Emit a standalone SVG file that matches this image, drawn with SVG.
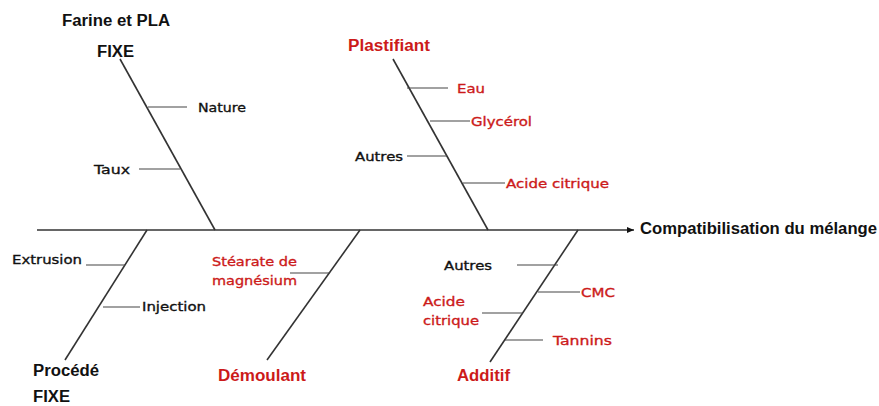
<svg xmlns="http://www.w3.org/2000/svg" width="879" height="406" viewBox="0 0 879 406">
<style>
.ln{stroke:#333;stroke-width:1.6;fill:none}
.tk{stroke:#444;stroke-width:1.2;fill:none}
text{font-family:"Liberation Sans",Arial,sans-serif}
.h{font-size:16px;font-weight:bold;fill:#111}
.hr{font-size:16px;font-weight:bold;fill:#cc1a1a}
.s,.sr{font-family:"DejaVu Sans",Verdana,sans-serif;font-size:13px;stroke-width:0.35}
.s{fill:#111;stroke:#111}
.sr{fill:#cc1a1a;stroke:#cc1a1a}
</style>
<defs>
<marker id="ar" markerWidth="8" markerHeight="8" refX="7" refY="4" orient="auto" markerUnits="userSpaceOnUse">
<path d="M0,1 L7,4 L0,7 Z" fill="#111"/>
</marker>
</defs>
<g id="connectors">
<line class="ln" x1="37" y1="230" x2="634" y2="230" marker-end="url(#ar)"/>
<line class="ln" x1="120" y1="59" x2="215" y2="230"/>
<line class="tk" x1="148" y1="107" x2="187" y2="107"/>
<line class="tk" x1="139" y1="169" x2="180" y2="169"/>
<line class="ln" x1="393" y1="59" x2="488" y2="230"/>
<line class="tk" x1="407" y1="88" x2="448" y2="88"/>
<line class="tk" x1="430" y1="121" x2="470" y2="121"/>
<line class="tk" x1="407" y1="156" x2="447" y2="156"/>
<line class="tk" x1="463" y1="183" x2="505" y2="183"/>
<line class="ln" x1="147" y1="230" x2="65" y2="360"/>
<line class="tk" x1="86" y1="265" x2="125" y2="265"/>
<line class="tk" x1="103" y1="307" x2="140" y2="307"/>
<line class="ln" x1="360" y1="230" x2="267" y2="360"/>
<line class="tk" x1="290" y1="273" x2="330" y2="273"/>
<line class="ln" x1="578" y1="230" x2="490" y2="362"/>
<line class="tk" x1="517" y1="265" x2="558" y2="265"/>
<line class="tk" x1="538" y1="292" x2="580" y2="292"/>
<line class="tk" x1="482" y1="313" x2="523" y2="313"/>
<line class="tk" x1="505" y1="340" x2="543" y2="340"/>
</g>
<g id="effect"><text class="h" x="640" y="234" textLength="237" lengthAdjust="spacingAndGlyphs">Compatibilisation du mélange</text></g>
<g id="farine">
<text class="h" x="62" y="26" textLength="108" lengthAdjust="spacingAndGlyphs">Farine et PLA</text>
<text class="h" x="97" y="57" textLength="37" lengthAdjust="spacingAndGlyphs">FIXE</text>
<text class="s" x="198" y="112" textLength="48" lengthAdjust="spacingAndGlyphs">Nature</text>
<text class="s" x="94" y="174" textLength="36" lengthAdjust="spacingAndGlyphs">Taux</text>
</g>
<g id="plastifiant">
<text class="hr" x="348" y="51" textLength="82" lengthAdjust="spacingAndGlyphs">Plastifiant</text>
<text class="sr" x="457" y="93" textLength="28" lengthAdjust="spacingAndGlyphs">Eau</text>
<text class="sr" x="471" y="126" textLength="61" lengthAdjust="spacingAndGlyphs">Glycérol</text>
<text class="s" x="355" y="161" textLength="48" lengthAdjust="spacingAndGlyphs">Autres</text>
<text class="sr" x="506" y="188" textLength="103" lengthAdjust="spacingAndGlyphs">Acide citrique</text>
</g>
<g id="procede">
<text class="s" x="12" y="264" textLength="70" lengthAdjust="spacingAndGlyphs">Extrusion</text>
<text class="s" x="142" y="311" textLength="64" lengthAdjust="spacingAndGlyphs">Injection</text>
<text class="h" x="33" y="376" textLength="66" lengthAdjust="spacingAndGlyphs">Procédé</text>
<text class="h" x="33" y="402" textLength="37" lengthAdjust="spacingAndGlyphs">FIXE</text>
</g>
<g id="demoulant">
<text class="sr" x="212" y="266" textLength="85" lengthAdjust="spacingAndGlyphs">Stéarate de</text>
<text class="sr" x="212" y="285" textLength="85" lengthAdjust="spacingAndGlyphs">magnésium</text>
<text class="hr" x="218" y="381" textLength="88" lengthAdjust="spacingAndGlyphs">Démoulant</text>
</g>
<g id="additif">
<text class="s" x="444" y="270" textLength="48" lengthAdjust="spacingAndGlyphs">Autres</text>
<text class="sr" x="581" y="297" textLength="34" lengthAdjust="spacingAndGlyphs">CMC</text>
<text class="sr" x="423" y="306" textLength="42" lengthAdjust="spacingAndGlyphs">Acide</text>
<text class="sr" x="423" y="325" textLength="56" lengthAdjust="spacingAndGlyphs">citrique</text>
<text class="sr" x="553" y="345" textLength="59" lengthAdjust="spacingAndGlyphs">Tannins</text>
<text class="hr" x="457" y="381" textLength="53" lengthAdjust="spacingAndGlyphs">Additif</text>
</g>
</svg>
